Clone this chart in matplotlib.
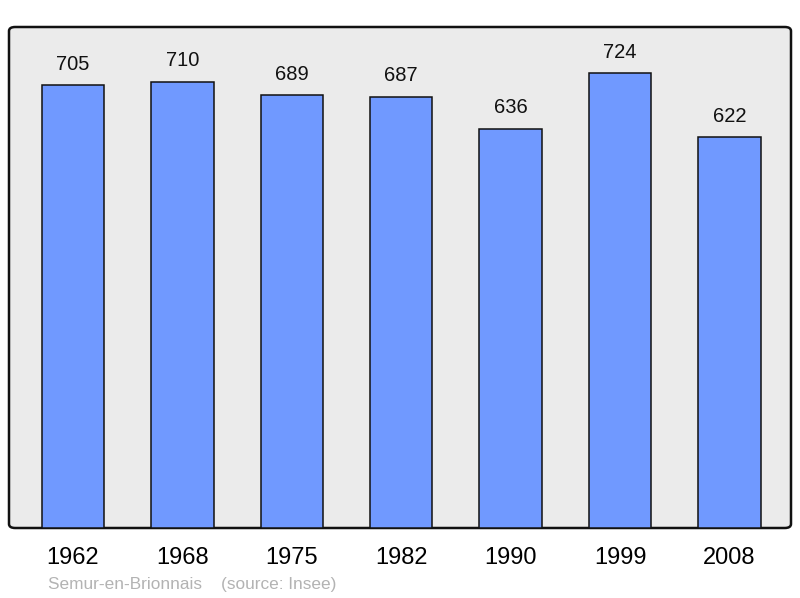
import matplotlib
matplotlib.use("Agg")
import matplotlib.pyplot as plt
from matplotlib.patches import FancyBboxPatch

years = ["1962", "1968", "1975", "1982", "1990", "1999", "2008"]
population = [705, 710, 689, 687, 636, 724, 622]
town = "Semur-en-Brionnais"
source = "(source: Insee)"

plt.rcParams['font.family'] = ['Liberation Sans', 'DejaVu Sans']

fig = plt.figure(figsize=(8.0, 5.98), dpi=100)
ax = fig.add_axes([9/800, 1 - 528/598, 782/800, 501/598])
ax.set_facecolor('none')
for s in ax.spines.values():
    s.set_visible(False)

# background frame with rounded corners
frame = FancyBboxPatch((0, 0), 1, 1,
                       boxstyle="round,pad=0,rounding_size=0.008",
                       transform=ax.transAxes, facecolor='#ebebeb',
                       edgecolor='#111111', linewidth=1.8, zorder=0,
                       clip_on=False)
ax.add_patch(frame)

x = list(range(len(years)))
bars = ax.bar(x, population, width=0.57, color='#7099ff', edgecolor='#111111',
              linewidth=1.1, zorder=2)
for xi, v in zip(x, population):
    ax.annotate(str(v), (xi, v), xytext=(0, 8.5), textcoords='offset points',
                ha='center', va='bottom', fontsize=14.5, color='#111111')

ax.set_xlim(-0.584, 6.562)
ax.set_ylim(0, 798)
ax.set_yticks([])
ax.set_xticks(x)
ax.set_xticklabels(years, fontsize=17)
ax.tick_params(axis='x', length=0, pad=14)

fig.text(48/800, 1 - 584/598, town + "    " + source, fontsize=12.4,
         color='#b3b3b3', ha='left', va='center')

fig.savefig("out.png", dpi=100)
